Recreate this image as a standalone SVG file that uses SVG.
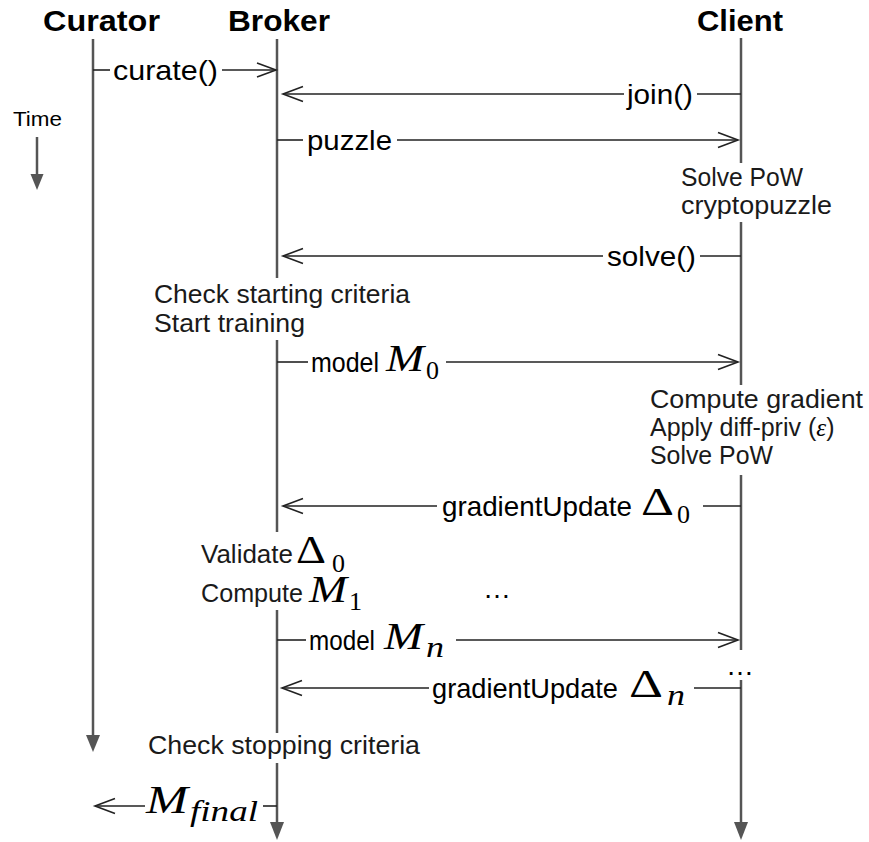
<svg xmlns="http://www.w3.org/2000/svg" width="869" height="842" viewBox="0 0 869 842">
<style>
.hdr{font-family:"Liberation Sans",Arial,sans-serif;font-weight:bold;font-size:29px;fill:#000}
.msg{font-family:"Liberation Sans",Arial,sans-serif;font-size:28px;fill:#000}
.ann{font-family:"Liberation Sans",Arial,sans-serif;font-size:25px;fill:#1a1a1a}
.mi{font-family:"Liberation Serif","Times New Roman",serif;font-style:italic;fill:#000}
.mr{font-family:"Liberation Serif","Times New Roman",serif;fill:#000}
.life{stroke:#555;stroke-width:2.5;fill:none}
.head{fill:#555}
.ln{stroke:#222;stroke-width:1.6;fill:none}
</style>
<rect width="869" height="842" fill="#fff"/>

<g id="time">
<text x="13" y="126" font-family="Liberation Sans,Arial,sans-serif" font-size="20" textLength="49" lengthAdjust="spacingAndGlyphs">Time</text>
<line class="life" x1="37" y1="137" x2="37" y2="176" stroke-width="1.6"/>
<polygon class="head" points="30.5,174 43.5,174 37,190"/>
</g>

<g id="curator">
<text class="hdr" x="43" y="31" textLength="117" lengthAdjust="spacingAndGlyphs">Curator</text>
<line class="life" x1="93" y1="39" x2="93" y2="737"/>
<polygon class="head" points="86,735 100,735 93,752"/>
</g>

<g id="broker">
<text class="hdr" x="228" y="31" textLength="102" lengthAdjust="spacingAndGlyphs">Broker</text>
<line class="life" x1="277" y1="39" x2="277" y2="278"/>
<line class="life" x1="277" y1="340" x2="277" y2="532"/>
<line class="life" x1="277" y1="610" x2="277" y2="733"/>
<line class="life" x1="277" y1="763" x2="277" y2="824"/>
<polygon class="head" points="270,822 284,822 277,840"/>
<text class="ann" x="154" y="303" textLength="256" lengthAdjust="spacingAndGlyphs">Check starting criteria</text>
<text class="ann" x="154" y="332" textLength="151" lengthAdjust="spacingAndGlyphs">Start training</text>
<text class="ann" x="201" y="563" textLength="92" lengthAdjust="spacingAndGlyphs">Validate</text>
<text class="mr" x="296" y="563" font-size="40" textLength="30" lengthAdjust="spacingAndGlyphs">Δ</text>
<text class="mr" x="332" y="572" font-size="26">0</text>
<text class="ann" x="201" y="602" textLength="102" lengthAdjust="spacingAndGlyphs">Compute</text>
<text class="mi" x="309" y="602" font-size="38" textLength="38" lengthAdjust="spacingAndGlyphs">M</text>
<text class="mr" x="349" y="610" font-size="26">1</text>
<text class="msg" x="483" y="598" font-size="26">…</text>
<text class="ann" x="148" y="754" textLength="272" lengthAdjust="spacingAndGlyphs">Check stopping criteria</text>
</g>

<g id="client">
<text class="hdr" x="697" y="31" textLength="86" lengthAdjust="spacingAndGlyphs">Client</text>
<line class="life" x1="741" y1="38" x2="741" y2="163"/>
<line class="life" x1="741" y1="222" x2="741" y2="385"/>
<line class="life" x1="741" y1="475" x2="741" y2="650"/>
<line class="life" x1="741" y1="680" x2="741" y2="824"/>
<polygon class="head" points="734,822 748,822 741,840"/>
<text class="ann" x="681" y="186" textLength="122" lengthAdjust="spacingAndGlyphs">Solve PoW</text>
<text class="ann" x="681" y="214" textLength="151" lengthAdjust="spacingAndGlyphs">cryptopuzzle</text>
<text class="ann" x="650" y="408" textLength="213" lengthAdjust="spacingAndGlyphs">Compute gradient</text>
<text class="ann" x="650" y="436">Apply diff-priv (<tspan class="mi" font-size="25">ε</tspan>)</text>
<text class="ann" x="650" y="464" textLength="123" lengthAdjust="spacingAndGlyphs">Solve PoW</text>
<text class="msg" x="726" y="675" font-size="26">…</text>
</g>

<g id="connectors">
<!-- curate() -->
<line class="ln" x1="93" y1="70" x2="110" y2="70"/>
<text class="msg" x="113" y="80" textLength="105" lengthAdjust="spacingAndGlyphs">curate()</text>
<line class="ln" x1="222" y1="70" x2="276" y2="70"/>
<polyline class="ln" points="257,63 276,70 257,77"/>
<!-- join() -->
<line class="ln" x1="283" y1="94" x2="624" y2="94"/>
<polyline class="ln" points="303,86.5 283,94 303,101.5"/>
<text class="msg" x="627" y="104" textLength="66" lengthAdjust="spacingAndGlyphs">join()</text>
<line class="ln" x1="697" y1="94" x2="741" y2="94"/>
<!-- puzzle -->
<line class="ln" x1="277" y1="140" x2="303" y2="140"/>
<text class="msg" x="307" y="150" textLength="85" lengthAdjust="spacingAndGlyphs">puzzle</text>
<line class="ln" x1="397" y1="140" x2="738" y2="140"/>
<polyline class="ln" points="718,132.5 738,140 718,147.5"/>
<!-- solve() -->
<line class="ln" x1="283" y1="256" x2="603" y2="256"/>
<polyline class="ln" points="303,248.5 283,256 303,263.5"/>
<text class="msg" x="607" y="266" textLength="89" lengthAdjust="spacingAndGlyphs">solve()</text>
<line class="ln" x1="700" y1="256" x2="741" y2="256"/>
<!-- model M0 -->
<line class="ln" x1="277" y1="362" x2="308" y2="362"/>
<text class="msg" x="311" y="372" font-size="27" textLength="68" lengthAdjust="spacingAndGlyphs">model</text>
<text class="mi" x="386" y="371" font-size="38" textLength="38" lengthAdjust="spacingAndGlyphs">M</text>
<text class="mr" x="426" y="379" font-size="26">0</text>
<line class="ln" x1="446" y1="362" x2="738" y2="362"/>
<polyline class="ln" points="718,354.5 738,362 718,369.5"/>
<!-- gradientUpdate D0 -->
<line class="ln" x1="283" y1="506" x2="437" y2="506"/>
<polyline class="ln" points="303,498.5 283,506 303,513.5"/>
<text class="msg" x="442" y="516" textLength="190" lengthAdjust="spacingAndGlyphs">gradientUpdate</text>
<text class="mr" x="641" y="515" font-size="40" textLength="33" lengthAdjust="spacingAndGlyphs">Δ</text>
<text class="mr" x="677" y="523" font-size="26">0</text>
<line class="ln" x1="703" y1="506" x2="741" y2="506"/>
<!-- model Mn -->
<line class="ln" x1="277" y1="640" x2="306" y2="640"/>
<text class="msg" x="309" y="650" font-size="27" textLength="66" lengthAdjust="spacingAndGlyphs">model</text>
<text class="mi" x="384" y="649" font-size="38" textLength="39" lengthAdjust="spacingAndGlyphs">M</text>
<text class="mi" x="426" y="657" font-size="29" textLength="18" lengthAdjust="spacingAndGlyphs">n</text>
<line class="ln" x1="456" y1="640" x2="738" y2="640"/>
<polyline class="ln" points="718,632.5 738,640 718,647.5"/>
<!-- gradientUpdate Dn -->
<line class="ln" x1="282" y1="688" x2="429" y2="688"/>
<polyline class="ln" points="302,680.5 282,688 302,695.5"/>
<text class="msg" x="432" y="698" textLength="186" lengthAdjust="spacingAndGlyphs">gradientUpdate</text>
<text class="mr" x="629" y="697" font-size="40" textLength="34" lengthAdjust="spacingAndGlyphs">Δ</text>
<text class="mi" x="667" y="705" font-size="29" textLength="18" lengthAdjust="spacingAndGlyphs">n</text>
<line class="ln" x1="694" y1="688" x2="741" y2="688"/>
<!-- M_final -->
<line class="ln" x1="95" y1="806" x2="145" y2="806"/>
<polyline class="ln" points="115,798.5 95,806 115,813.5"/>
<text class="mi" x="146" y="813" font-size="40" textLength="42" lengthAdjust="spacingAndGlyphs">M</text>
<text class="mi" x="190" y="821" font-size="30" textLength="68" lengthAdjust="spacingAndGlyphs">final</text>
<line class="ln" x1="263" y1="806" x2="277" y2="806"/>
</g>
</svg>
